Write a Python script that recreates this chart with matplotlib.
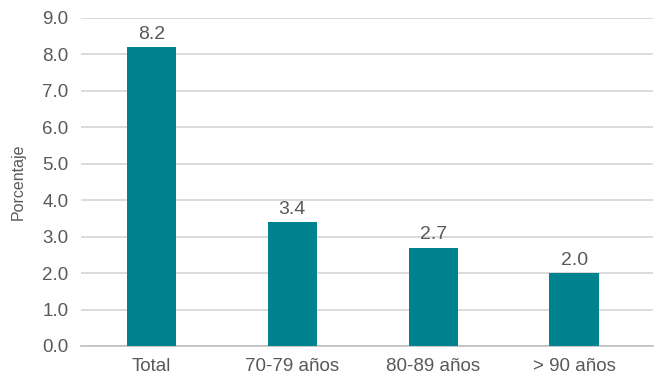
import numpy as np
import matplotlib.pyplot as plt
from matplotlib import font_manager

#----------------------------------------------------------------
#   DATA
#----------------------------------------------------------------
categories = ["Total", "70-79 años", "80-89 años", "> 90 años"]
values = [8.2, 3.4, 2.7, 2.0]
y_ticks = np.arange(0, 10, 1.0)

#----------------------------------------------------------------
#   STYLE
#----------------------------------------------------------------
names = {f.name for f in font_manager.fontManager.ttflist}
family = ["Liberation Sans Narrow"] if "Liberation Sans Narrow" in names else ["Liberation Sans"]
plt.rcParams['font.family'] = family + ["DejaVu Sans"]

bar_color = "#00838F"
text_color = "#595959"

fig = plt.figure(figsize=(6.56, 3.81), dpi=100)
ax = fig.add_axes([0.1235, 0.0919, 0.8719, 0.8616])

x = np.arange(len(categories))
bars = ax.bar(x, values, width=0.35, color=bar_color, zorder=3)

for b, v in zip(bars, values):
    ax.annotate(f"{v:.1f}", (b.get_x() + b.get_width() / 2, v),
                xytext=(0, 3), textcoords="offset points",
                ha="center", va="bottom", fontsize=14, color=text_color)

ax.set_ylim(0, 9)
ax.set_xlim(-0.5, 3.56)
ax.set_yticks(y_ticks)
ax.set_yticklabels([f"{t:.1f}" for t in y_ticks])
ax.set_xticks(x)
ax.set_xticklabels(categories)
ax.tick_params(axis="both", length=0, labelsize=13.5, labelcolor=text_color)
ax.tick_params(axis="y", pad=9)
ax.tick_params(axis="x", pad=9)

ax.yaxis.grid(True, color="#D4D4D4", linewidth=1.2, zorder=0)
for s in ["top", "right", "left"]:
    ax.spines[s].set_visible(False)
ax.spines["bottom"].set_color("#BFBFBF")
ax.spines["bottom"].set_linewidth(1.2)

ax.set_ylabel("Porcentaje", fontsize=11.5, color=text_color, labelpad=12)

fig.savefig("out.png", dpi=100)
